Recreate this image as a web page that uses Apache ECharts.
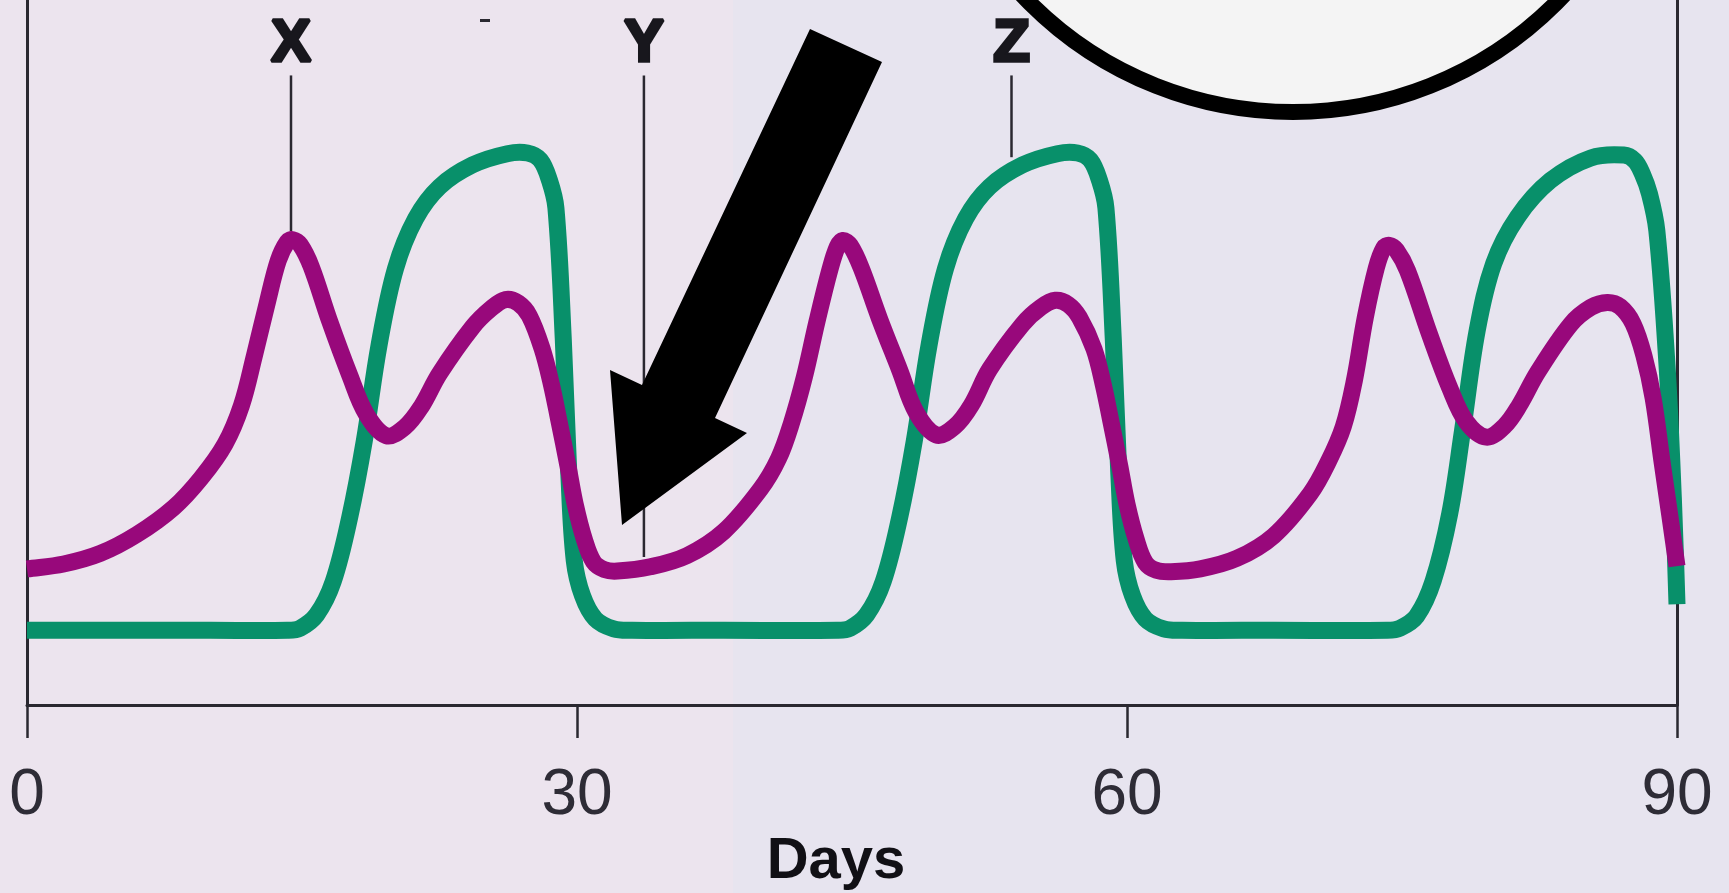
<!DOCTYPE html>
<html>
<head>
<meta charset="utf-8">
<script src="https://cdn.jsdelivr.net/npm/echarts@6/dist/echarts.min.js"></script>
<style>
  html, body { margin: 0; padding: 0; }
  body { background: linear-gradient(to right, #ece4ee 0, #ece4ee 733px, #e7e4ef 733px, #e7e4ef 100%); }
  #chart { width: 1729px; height: 893px; }
</style>
</head>
<body>
<div id="chart"></div>
<script>
// Day ticks along the horizontal axis
const dayTicks = [0, 30, 60, 90];

// Green hormone curve: [day, relative level]
const greenLevel = [
  [0, 10.6], [5, 10.6], [10, 10.6], [14.2, 10.6], [14.9, 10.9], [15.8, 12.8], [16.7, 17.5],
  [17.6, 26.6], [18.4, 37.5], [19.2, 51.0], [20.1, 61.9], [21.2, 69.0], [22.5, 73.5],
  [24.3, 76.6], [26.2, 78.2], [27.3, 78.3], [28.0, 77.3], [28.5, 74.4], [28.85, 70.5],
  [29.25, 52.0], [29.55, 33.0], [29.85, 20.5], [30.3, 15.5], [31.0, 12.2], [32.0, 10.8],
  [33.0, 10.6], [38, 10.6], [44.2, 10.6], [44.9, 10.9], [45.8, 12.8], [46.7, 17.5],
  [47.6, 26.6], [48.4, 37.5], [49.2, 51.0], [50.1, 61.9], [51.2, 69.0], [52.5, 73.5],
  [54.3, 76.6], [56.2, 78.2], [57.3, 78.3], [58.0, 77.3], [58.5, 74.4], [58.85, 70.5],
  [59.25, 52.0], [59.55, 33.0], [59.85, 20.5], [60.3, 15.5], [61.0, 12.2], [62.0, 10.8],
  [63.0, 10.6], [68, 10.6], [74.2, 10.6], [74.9, 10.9], [75.8, 12.6], [76.7, 17.6],
  [77.6, 27.1], [78.3, 38.9], [79.1, 53.1], [80.0, 62.6], [81.3, 69.2], [83.1, 74.4],
  [85.3, 77.6], [87.1, 78.0], [87.7, 77.2], [88.1, 75.4], [88.5, 72.5], [88.9, 67.3],
  [89.45, 48.4], [89.8, 29.4], [90, 14.3]
];

// Purple hormone curve: [day, relative level]
const purpleLevel = [
  [0, 19.3], [2, 20.0], [4, 21.5], [6, 24.2], [8, 28.0], [9.5, 32.2], [10.8, 37.0],
  [11.7, 42.5], [12.4, 49.5], [13.1, 57.0], [13.7, 63.0], [14.2, 65.7], [14.5, 66.0],
  [14.9, 65.3], [15.5, 62.2], [16.5, 54.5], [17.6, 46.8], [18.5, 41.3], [19.6, 38.2],
  [20.6, 39.4], [21.5, 42.3], [22.5, 47.0], [24.3, 53.6], [25.3, 56.2], [26.1, 57.5],
  [26.8, 57.0], [27.4, 55.2], [28.1, 50.5], [28.6, 45.5], [29.0, 40.5], [29.5, 34.0],
  [29.9, 28.5], [30.4, 23.5], [30.9, 20.3], [31.5, 19.2], [32.2, 19.0],
  [34, 19.6], [36, 21.2], [38, 24.6], [40, 30.6], [41.0, 35.0], [41.7, 40.0], [42.4, 46.5],
  [43.1, 54.5], [43.8, 61.8], [44.2, 65.0], [44.5, 65.9], [44.9, 65.2], [45.5, 62.0],
  [46.5, 54.8], [47.6, 47.5], [48.5, 41.5], [49.6, 38.3], [50.6, 39.5], [51.5, 42.5],
  [52.5, 47.6], [54.3, 54.0], [55.3, 56.4], [56.1, 57.4], [56.8, 56.8], [57.4, 55.0],
  [58.2, 50.5], [58.7, 45.5], [59.1, 40.5], [59.6, 34.0], [60.0, 28.5], [60.5, 23.5],
  [61.0, 20.2], [61.6, 19.1], [62.4, 18.9],
  [64, 19.3], [66, 20.8], [68, 24.0], [70, 30.0], [71.0, 34.6], [71.8, 39.5], [72.4, 46.0],
  [73.0, 55.0], [73.6, 62.0], [74.0, 64.8], [74.3, 65.2], [74.7, 64.5], [75.3, 61.6],
  [76.5, 52.6], [77.6, 45.0], [78.5, 40.2], [79.6, 38.0], [80.6, 39.6], [81.4, 42.5],
  [82.4, 47.2], [84.2, 54.0], [85.3, 56.4], [86.2, 57.1], [86.9, 56.5], [87.6, 54.1],
  [88.2, 49.5], [88.7, 43.5], [89.2, 34.2], [89.6, 27.0], [90, 19.7]
];

// Labelled time points: name, day, level where the pointer line meets the curve
const markerNames = ['X', 'Y', 'Z'];
const markerDays = [14.4, 33.65, 53.7];
const markerFoot = [67.2, 21.0, 77.7];
const markerTop = 89.3;

const chart = echarts.init(document.getElementById('chart'), null, { renderer: 'canvas' });

const axisColor = '#2a2830';
const GREEN = '#08906a';
const PURPLE = '#98087b';
const FONT = 'Liberation Sans, Arial, sans-serif';

// Smooth curve through pixel points (chord-weighted Catmull-Rom as cubic Béziers)
function splinePath(pts) {
  const dist = (a, b) => Math.hypot(b[0] - a[0], b[1] - a[1]);
  const s = 0.36;
  let d = 'M' + pts[0][0] + ',' + pts[0][1];
  for (let i = 0; i < pts.length - 1; i++) {
    const p0 = pts[i - 1] || pts[i];
    const p1 = pts[i];
    const p2 = pts[i + 1];
    const p3 = pts[i + 2] || pts[i + 1];
    const d0 = dist(p0, p1), d1 = dist(p1, p2), d2 = dist(p2, p3);
    const ka = (d0 + d1) > 0 ? s * d1 / (d0 + d1) : 0;
    const kb = (d1 + d2) > 0 ? s * d1 / (d1 + d2) : 0;
    const c1 = [p1[0] + (p2[0] - p0[0]) * ka, p1[1] + (p2[1] - p0[1]) * ka];
    const c2 = [p2[0] - (p3[0] - p1[0]) * kb, p2[1] - (p3[1] - p1[1]) * kb];
    d += 'C' + c1[0] + ',' + c1[1] + ' ' + c2[0] + ',' + c2[1] + ' ' + p2[0] + ',' + p2[1];
  }
  return d;
}

// One custom series per curve: the whole curve is drawn once, mapped through the axes
function curveSeries(name, values, color, z) {
  return {
    type: 'custom', name, coordinateSystem: 'cartesian2d', data: values, z,
    encode: { x: 0, y: 1 }, silent: true,
    renderItem(params, api) {
      if (params.dataIndex !== 0) return null;
      const pts = values.map(v => api.coord(v));
      return {
        type: 'path',
        shape: { pathData: splinePath(pts) },
        style: { fill: 'none', stroke: color, lineWidth: 17, lineCap: 'butt', lineJoin: 'round' }
      };
    }
  };
}

chart.setOption({
  animation: false,
  backgroundColor: 'transparent',
  grid: { left: 27, right: 52, top: 0, bottom: 188, containLabel: false, outerBoundsMode: 'none' },
  xAxis: {
    type: 'value', min: dayTicks[0], max: dayTicks[dayTicks.length - 1], interval: 30,
    axisLine: { show: true, lineStyle: { color: axisColor, width: 3 } },
    axisTick: { show: true, length: 33, lineStyle: { color: axisColor, width: 2.5 } },
    splitLine: { show: false },
    axisLabel: {
      margin: 59, fontSize: 64, fontFamily: FONT,
      color: '#2e2c36', showMinLabel: true, showMaxLabel: true
    },
    name: 'Days', nameLocation: 'middle', nameGap: 113,
    nameTextStyle: {
      fontSize: 58, fontWeight: 'bold', fontFamily: FONT,
      color: '#111015', padding: [0, 32, 0, 0]
    }
  },
  yAxis: [
    {
      type: 'value', min: 0, max: 100, position: 'left',
      axisLine: { show: true, lineStyle: { color: axisColor, width: 3 } },
      axisTick: { show: false }, axisLabel: { show: false }, splitLine: { show: false }
    },
    {
      type: 'value', min: 0, max: 100, position: 'right',
      axisLine: { show: true, lineStyle: { color: axisColor, width: 3 } },
      axisTick: { show: false }, axisLabel: { show: false }, splitLine: { show: false }
    }
  ],
  series: [
    // pointer lines with their letters
    {
      type: 'custom', name: 'markers', coordinateSystem: 'cartesian2d', z: 2, silent: true,
      data: markerDays.map((d, i) => [d, markerFoot[i], markerTop]),
      encode: { x: 0, y: [1, 2] },
      renderItem(params, api) {
        const foot = api.coord([api.value(0), api.value(1)]);
        const top = api.coord([api.value(0), api.value(2)]);
        return {
          type: 'group',
          children: [
            {
              type: 'line',
              shape: { x1: foot[0], y1: foot[1], x2: top[0], y2: top[1] },
              style: { stroke: '#2a2830', lineWidth: 2.5 }
            },
            {
              type: 'text',
              style: {
                text: markerNames[params.dataIndex], x: top[0], y: top[1] - 1,
                align: 'center', verticalAlign: 'bottom',
                font: 'bold 60px ' + FONT, fill: '#18171d',
                stroke: '#18171d', lineWidth: 3.5
              }
            }
          ]
        };
      }
    },
    curveSeries('green', greenLevel, GREEN, 3),
    curveSeries('purple', purpleLevel, PURPLE, 4)
  ],
  graphic: [
    // small printed dash near the top
    { type: 'rect', shape: { x: 480, y: 19, width: 10, height: 3 }, style: { fill: '#2a2830' }, z: 50, silent: true },
    // pointer arrow
    {
      type: 'polygon', z: 100, silent: true,
      shape: { points: [[810, 29], [882, 62], [715, 418], [747, 433], [622, 525], [610, 370], [642, 385]] },
      style: { fill: '#000000' }
    },
    // callout bubble
    {
      type: 'circle', z: 100, silent: true,
      shape: { cx: 1293, cy: -260, r: 372 },
      style: { fill: '#f4f4f4', stroke: '#000000', lineWidth: 16 }
    }
  ]
});
</script>
</body>
</html>
